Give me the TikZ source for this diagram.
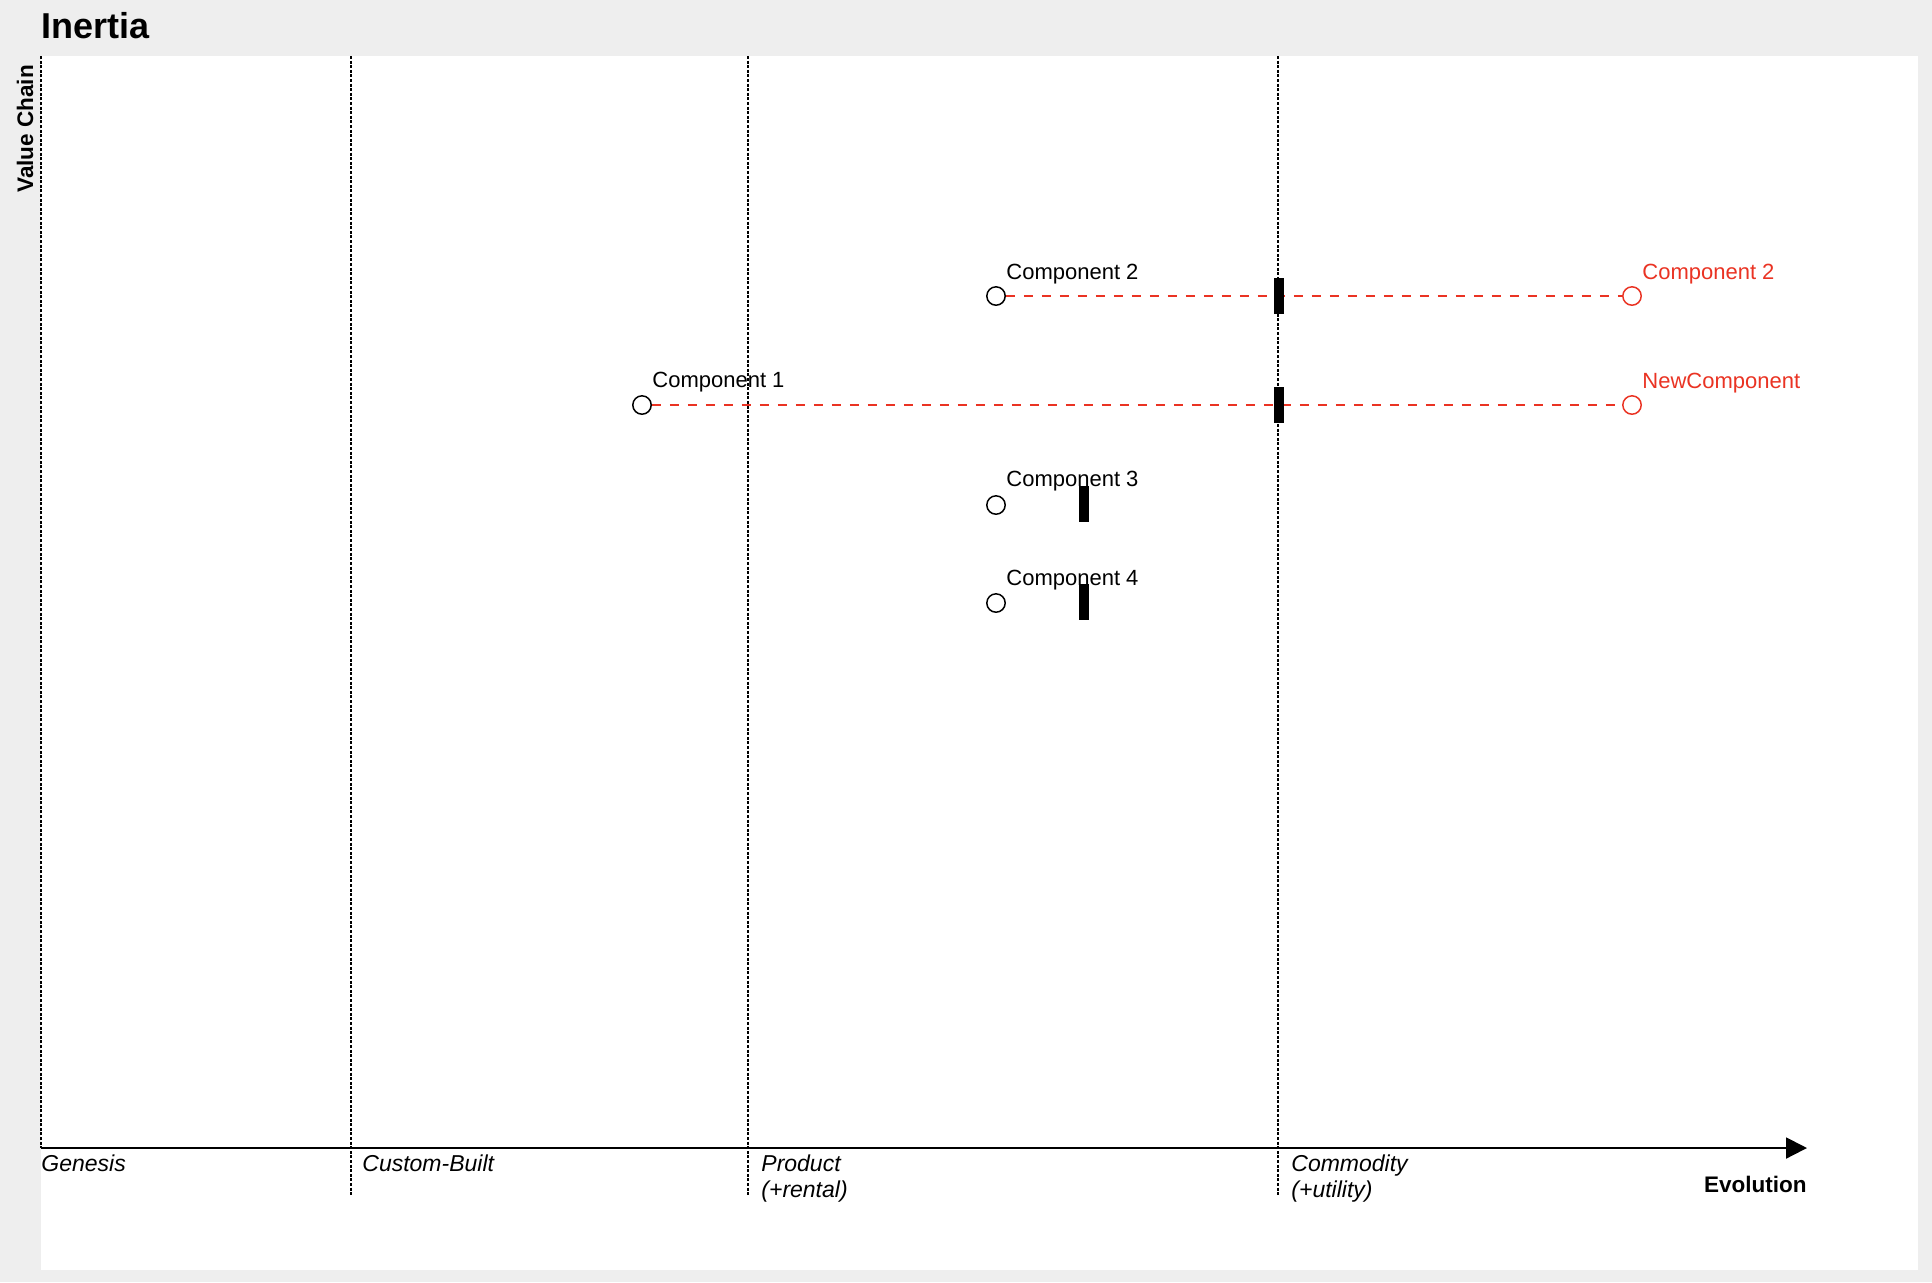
\documentclass[tikz,border=0pt]{standalone}
\usepackage{fontspec}
\setmainfont{Liberation Sans}
\usetikzlibrary{arrows.meta}
\definecolor{mapbg}{RGB}{238,238,238}
\definecolor{evored}{RGB}{234,51,35}

\begin{document}
\begin{tikzpicture}[
      x=0.5pt, y=-0.5pt,
      stage/.style = {line width=0.7pt, dash pattern=on 1.5pt off 0.8pt},
      evoaxis/.style = {line width=1pt, -{Triangle[length=10.5pt,width=10.5pt]}},
      comp/.style = {shape=circle, draw, line width=0.75pt, fill=white, minimum size=9.2pt, inner sep=0pt},
      evolved/.style = {comp, draw=evored},
      inertia/.style = {shape=rectangle, fill=black, minimum width=5pt, minimum height=18pt, inner sep=0pt},
      evolink/.style = {draw=evored, line width=0.75pt, dash pattern=on 4.5pt off 4.5pt},
      compname/.style = {anchor=base west, inner sep=0pt, font=\fontsize{11pt}{13pt}\selectfont},
      stagename/.style = {anchor=north west, inner sep=0pt, align=left, font=\fontsize{11.5pt}{13pt}\selectfont\itshape},
      axisname/.style = {inner sep=0pt, font=\fontsize{11.25pt}{13pt}\selectfont\bfseries}
    ]
      \fill[mapbg] (0,0) rectangle (1932,1282);
      \useasboundingbox (0,0) rectangle (1932,1282);
      \fill[white] (41,56) rectangle (1918,1270);

      \node[anchor=base west, inner sep=0pt, font=\fontsize{18pt}{20pt}\selectfont\bfseries] (title) at (41,38) {Inertia};

      \draw[stage] (41,56) -- (41,1148);
      \foreach \x in {351,748,1278}
        \draw[stage] (\x,56) -- (\x,1196);
      \coordinate (origin) at (41,1148);
      \coordinate (evoend) at (1807,1148);
      \draw[evoaxis] (origin) -- (evoend);

      \node[axisname, anchor=base west, rotate=90] (valuechain) at (33,193) {Value Chain};
      \node[axisname, anchor=base east] (evolution) at (1807,1192) {Evolution};
      \node[stagename] (genesis) at (41,1154) {Genesis};
      \node[stagename] (custom) at (362,1154) {Custom-Built};
      \node[stagename] (product) at (761,1154) {Product\\(+rental)};
      \node[stagename] (commodity) at (1291,1154) {Commodity\\(+utility)};

      \node[compname] (c1name) at (652,387) {Component 1};
      \node[compname] (c2name) at (1006,279) {Component 2};
      \node[compname] (c3name) at (1006,486) {Component 3};
      \node[compname] (c4name) at (1006,585) {Component 4};
      \node[compname, text=evored] (c2evoname) at (1642,279) {Component 2};
      \node[compname, text=evored] (newname) at (1642,388) {NewComponent};

      \node[comp] (c1) at (642,405) {};
      \node[comp] (c2) at (996,296) {};
      \node[comp] (c3) at (996,505) {};
      \node[comp] (c4) at (996,603) {};
      \node[evolved] (c2evo) at (1632,296) {};
      \node[evolved] (newcomp) at (1632,405) {};

      \draw[evolink] (c2) -- (c2evo);
      \draw[evolink] (c1) -- (newcomp);

      \node[inertia] (in2) at (1279,296) {};
      \node[inertia] (in1) at (1279,405) {};
      \node[inertia] (in3) at (1084,504) {};
      \node[inertia] (in4) at (1084,602) {};
\end{tikzpicture}
\end{document}
